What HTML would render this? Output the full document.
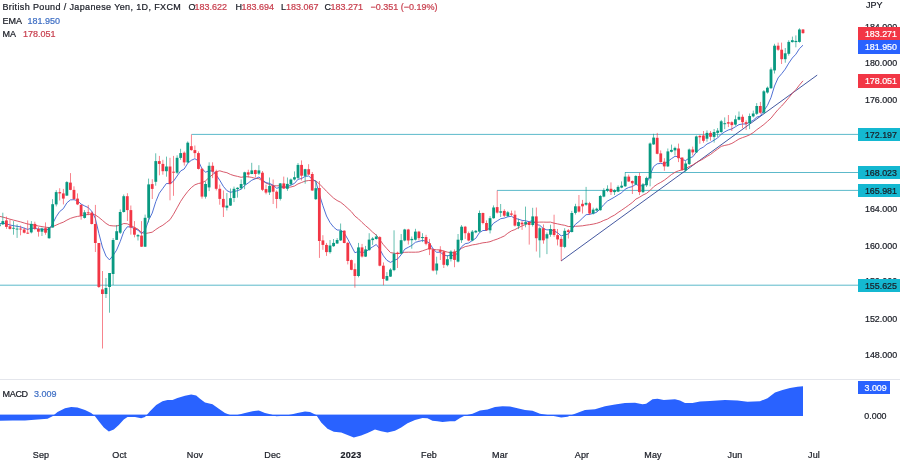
<!DOCTYPE html>
<html><head><meta charset="utf-8"><title>GBPJPY chart</title>
<style>
html,body{margin:0;padding:0;background:#fff}
body{width:900px;height:463px;position:relative;overflow:hidden;font-family:"Liberation Sans",sans-serif}
.t{position:absolute;line-height:12px;height:12px;white-space:nowrap;-webkit-text-stroke:0.22px currentColor}
#txt{position:absolute;left:0;top:0;width:900px;height:463px;will-change:transform;opacity:0.999}
.lb{position:absolute;-webkit-text-stroke:0.22px currentColor;font-size:8.9px;white-space:nowrap;overflow:hidden}
</style></head><body>
<svg width="900" height="463" viewBox="0 0 900 463" style="position:absolute;left:0;top:0">
<rect x="0" y="379" width="900" height="1" fill="#e4e6ec"/>
<line x1="191.5" y1="134.4" x2="858" y2="134.4" stroke="#35a9bd" stroke-width="0.9" opacity="0.9"/>
<line x1="625" y1="172.5" x2="858" y2="172.5" stroke="#35a9bd" stroke-width="0.9" opacity="0.9"/>
<line x1="497.1" y1="190.4" x2="858" y2="190.4" stroke="#35a9bd" stroke-width="0.9" opacity="0.9"/>
<line x1="0" y1="285.2" x2="858" y2="285.2" stroke="#35a9bd" stroke-width="0.9" opacity="0.9"/>
<line x1="561" y1="261" x2="817.2" y2="75.1" stroke="#2f4595" stroke-width="0.9"/>
<polyline fill="none" stroke="#d2475a" stroke-width="0.9" stroke-linejoin="round" points="-0.7,216.3 2.9,217.1 6.4,218.1 10.0,219.2 13.5,220.1 17.1,221.0 20.6,221.9 24.2,223.0 27.7,224.0 31.3,224.5 34.9,225.2 38.4,226.0 42.0,226.6 45.5,227.2 49.1,227.6 52.6,226.7 56.2,225.1 59.7,223.5 63.3,222.2 66.9,220.1 70.4,218.4 74.0,217.2 77.5,216.4 81.1,215.9 84.6,215.1 88.2,214.4 91.8,214.2 95.3,214.9 98.9,217.4 102.4,220.3 106.0,223.4 109.5,225.5 113.1,225.9 116.6,226.0 120.2,225.0 123.8,223.5 127.3,223.8 130.9,225.5 134.4,227.4 138.0,229.2 141.5,232.3 145.1,233.6 148.7,232.9 152.2,232.2 155.8,229.5 159.3,227.2 162.9,225.2 166.4,222.5 170.0,219.7 173.5,214.3 177.1,207.8 180.7,201.3 184.2,196.1 187.8,191.4 191.3,187.6 194.9,184.8 198.4,183.5 202.0,182.8 205.6,180.8 209.1,177.5 212.7,174.5 216.2,171.7 219.8,170.8 223.3,171.9 226.9,172.7 230.4,174.4 234.0,175.6 237.6,176.4 241.1,177.3 244.7,176.7 248.2,176.8 251.8,177.4 255.3,178.4 258.9,178.7 262.5,181.0 266.0,183.0 269.6,184.6 273.1,185.7 276.7,185.8 280.2,185.8 283.8,186.8 287.3,187.4 290.9,187.0 294.5,186.0 298.0,183.9 301.6,182.5 305.1,181.1 308.7,180.5 312.2,180.6 315.8,180.8 319.4,184.0 322.9,187.4 326.5,191.3 330.0,194.7 333.6,198.1 337.1,200.5 340.7,202.3 344.2,205.1 347.8,208.4 351.4,211.7 354.9,216.1 358.5,218.9 362.0,222.4 365.6,225.7 369.1,228.7 372.7,232.2 376.3,235.1 379.8,239.7 383.4,244.7 386.9,248.7 390.5,252.6 394.0,253.2 397.6,253.7 401.1,253.1 404.7,252.3 408.3,252.2 411.8,252.2 415.4,252.2 418.9,252.0 422.5,250.8 426.0,249.6 429.6,248.3 433.2,249.4 436.7,249.8 440.3,249.9 443.8,251.1 447.4,252.1 450.9,252.8 454.5,252.5 458.0,250.6 461.6,248.3 465.2,246.6 468.7,245.9 472.3,244.9 475.8,244.4 479.4,243.6 482.9,242.8 486.5,242.4 490.0,241.7 493.6,240.3 497.2,239.1 500.7,237.6 504.3,236.0 507.8,233.2 511.4,230.9 514.9,229.6 518.5,227.6 522.1,225.9 525.6,224.5 529.2,222.9 532.7,221.8 536.3,222.3 539.8,222.1 543.4,222.1 546.9,222.2 550.5,222.1 554.1,223.2 557.6,223.9 561.2,224.7 564.7,225.3 568.3,226.5 571.8,226.5 575.4,226.3 579.0,226.1 582.5,225.8 586.1,225.2 589.6,224.7 593.2,224.1 596.7,223.3 600.3,222.1 603.8,220.4 607.4,219.1 611.0,216.9 614.5,215.1 618.1,212.5 621.6,210.2 625.2,207.7 628.7,205.2 632.3,202.5 635.9,199.1 639.4,197.3 643.0,195.0 646.5,193.4 650.1,190.4 653.6,186.8 657.2,184.3 660.7,182.4 664.3,180.2 667.9,177.4 671.4,174.6 675.0,172.3 678.5,170.8 682.1,169.9 685.6,168.5 689.2,166.6 692.8,164.9 696.3,162.6 699.9,160.7 703.4,158.8 707.0,156.4 710.5,154.5 714.1,151.6 717.6,149.1 721.2,146.4 724.8,145.4 728.3,144.7 731.9,143.4 735.4,141.3 739.0,139.0 742.5,137.6 746.1,136.4 749.7,134.8 753.2,132.7 756.8,129.7 760.3,127.2 763.9,124.5 767.4,121.4 771.0,118.2 774.5,113.8 778.1,109.5 781.7,106.0 785.2,102.0 788.8,97.7 792.3,93.4 795.9,89.6 799.4,85.1 803.0,80.8"/>
<polyline fill="none" stroke="#3c61cf" stroke-width="0.9" stroke-linejoin="round" points="-0.7,223.7 2.9,223.1 6.4,223.9 10.0,225.0 13.5,225.7 17.1,226.3 20.6,226.9 24.2,228.2 27.7,229.4 31.3,228.2 34.9,228.4 38.4,229.1 42.0,229.0 45.5,229.8 49.1,229.3 52.6,223.8 56.2,216.7 59.7,211.5 63.3,208.7 66.9,202.8 70.4,199.9 74.0,199.7 77.5,200.7 81.1,204.1 84.6,205.9 88.2,207.6 91.8,211.2 95.3,218.3 98.9,233.5 102.4,247.0 106.0,256.1 109.5,259.9 113.1,255.4 116.6,250.1 120.2,241.6 123.8,231.5 127.3,226.8 130.9,226.9 134.4,228.7 138.0,230.1 141.5,233.8 145.1,230.2 148.7,220.1 152.2,213.1 155.8,201.6 159.3,193.2 162.9,188.3 166.4,183.5 170.0,183.6 173.5,181.2 177.1,176.0 180.7,170.9 184.2,169.0 187.8,163.2 191.3,160.3 194.9,158.7 198.4,160.9 202.0,168.9 205.6,172.2 209.1,170.8 212.7,171.0 216.2,174.9 219.8,180.3 223.3,186.3 226.9,190.6 230.4,192.3 234.0,191.5 237.6,190.7 241.1,189.2 244.7,185.4 248.2,183.0 251.8,180.2 255.3,178.8 258.9,177.0 262.5,179.8 266.0,182.7 269.6,183.4 273.1,185.2 276.7,188.3 280.2,187.2 283.8,187.5 287.3,186.7 290.9,185.1 294.5,183.4 298.0,179.3 301.6,178.5 305.1,176.4 308.7,176.0 312.2,179.2 315.8,181.2 319.4,194.5 322.9,205.7 326.5,216.0 330.0,222.5 333.6,227.1 337.1,230.0 340.7,230.1 344.2,233.0 347.8,239.2 351.4,246.0 354.9,252.7 358.5,251.5 362.0,252.6 365.6,251.9 369.1,249.2 372.7,246.8 376.3,244.5 379.8,249.2 383.4,255.8 386.9,260.3 390.5,262.4 394.0,260.4 397.6,259.0 401.1,254.8 404.7,249.2 408.3,247.3 411.8,245.4 415.4,242.3 418.9,241.4 422.5,240.4 426.0,241.2 429.6,243.0 433.2,249.1 436.7,252.3 440.3,252.2 443.8,255.0 447.4,255.9 450.9,255.0 454.5,256.1 458.0,252.4 461.6,246.7 465.2,243.7 468.7,243.0 472.3,240.5 475.8,238.3 479.4,232.7 482.9,230.5 486.5,230.5 490.0,227.7 493.6,223.2 497.2,220.9 500.7,218.7 504.3,218.1 507.8,216.8 511.4,216.3 514.9,218.4 518.5,219.2 522.1,220.4 525.6,220.8 529.2,221.7 532.7,220.5 536.3,224.5 539.8,225.3 543.4,228.6 546.9,229.9 550.5,229.7 554.1,230.9 557.6,232.8 561.2,235.9 564.7,234.8 568.3,234.1 571.8,229.4 575.4,224.3 579.0,221.5 582.5,218.1 586.1,214.7 589.6,214.4 593.2,213.4 596.7,212.3 600.3,208.7 603.8,204.6 607.4,201.1 611.0,199.1 614.5,197.1 618.1,194.8 621.6,192.8 625.2,189.2 628.7,187.5 632.3,186.6 635.9,184.2 639.4,186.0 643.0,185.6 646.5,183.9 650.1,174.9 653.6,166.6 657.2,163.8 660.7,163.4 664.3,164.1 667.9,161.3 671.4,158.7 675.0,156.3 678.5,156.7 682.1,159.7 685.6,160.5 689.2,158.1 692.8,156.8 696.3,152.3 699.9,148.9 703.4,147.1 707.0,144.0 710.5,142.4 714.1,140.1 717.6,138.0 721.2,134.2 724.8,131.8 728.3,130.0 731.9,128.9 735.4,126.8 739.0,124.6 742.5,124.0 746.1,124.0 749.7,122.2 753.2,120.3 756.8,117.1 760.3,116.1 763.9,110.6 767.4,105.5 771.0,97.5 774.5,86.0 778.1,77.9 781.7,73.7 785.2,69.2 788.8,63.1 792.3,58.0 795.9,54.2 799.4,48.7 803.0,45.2"/>
<rect x="-1.09" y="224.3" width="0.76" height="14.2" fill="#089981" opacity="0.8"/>
<rect x="-2.11" y="224.3" width="2.8" height="1.9" fill="#089981"/>
<rect x="2.47" y="212.7" width="0.76" height="12.3" fill="#089981" opacity="0.8"/>
<rect x="1.45" y="221.1" width="2.8" height="3.2" fill="#089981"/>
<rect x="6.03" y="216.6" width="0.76" height="12.3" fill="#f23645" opacity="0.8"/>
<rect x="5.01" y="220.4" width="2.8" height="6.5" fill="#f23645"/>
<rect x="9.58" y="219.8" width="0.76" height="9.7" fill="#f23645" opacity="0.8"/>
<rect x="8.56" y="226.3" width="2.8" height="2.6" fill="#f23645"/>
<rect x="13.14" y="221.1" width="0.76" height="13.6" fill="#089981" opacity="0.8"/>
<rect x="12.12" y="227.8" width="2.8" height="0.9" fill="#089981"/>
<rect x="16.69" y="224.3" width="0.76" height="13.6" fill="#089981" opacity="0.8"/>
<rect x="15.67" y="228.6" width="2.8" height="0.9" fill="#089981"/>
<rect x="20.25" y="225.6" width="0.76" height="9.7" fill="#f23645" opacity="0.8"/>
<rect x="19.23" y="228.6" width="2.8" height="0.9" fill="#f23645"/>
<rect x="23.81" y="227.6" width="0.76" height="5.8" fill="#f23645" opacity="0.8"/>
<rect x="22.79" y="229.5" width="2.8" height="3.2" fill="#f23645"/>
<rect x="27.36" y="220.4" width="0.76" height="13.6" fill="#f23645" opacity="0.8"/>
<rect x="26.34" y="232.7" width="2.8" height="0.9" fill="#f23645"/>
<rect x="30.92" y="221.1" width="0.76" height="12.3" fill="#089981" opacity="0.8"/>
<rect x="29.90" y="223.9" width="2.8" height="8.5" fill="#089981"/>
<rect x="34.48" y="221.7" width="0.76" height="8.4" fill="#f23645" opacity="0.8"/>
<rect x="33.46" y="223.9" width="2.8" height="4.9" fill="#f23645"/>
<rect x="38.03" y="226.9" width="0.76" height="9.7" fill="#f23645" opacity="0.8"/>
<rect x="37.01" y="228.9" width="2.8" height="2.8" fill="#f23645"/>
<rect x="41.59" y="227.6" width="0.76" height="8.4" fill="#089981" opacity="0.8"/>
<rect x="40.57" y="228.6" width="2.8" height="3.1" fill="#089981"/>
<rect x="45.14" y="222.4" width="0.76" height="12.3" fill="#f23645" opacity="0.8"/>
<rect x="44.12" y="228.2" width="2.8" height="4.5" fill="#f23645"/>
<rect x="48.70" y="226.9" width="0.76" height="12.0" fill="#089981" opacity="0.8"/>
<rect x="47.68" y="227.6" width="2.8" height="10.6" fill="#089981"/>
<rect x="52.26" y="199.1" width="0.76" height="28.5" fill="#089981" opacity="0.8"/>
<rect x="51.24" y="204.2" width="2.8" height="23.3" fill="#089981"/>
<rect x="55.81" y="190.2" width="0.76" height="16.2" fill="#089981" opacity="0.8"/>
<rect x="54.79" y="192.1" width="2.8" height="12.3" fill="#089981"/>
<rect x="59.37" y="188.2" width="0.76" height="12.3" fill="#f23645" opacity="0.8"/>
<rect x="58.35" y="192.1" width="2.8" height="1.3" fill="#f23645"/>
<rect x="62.93" y="188.9" width="0.76" height="15.5" fill="#f23645" opacity="0.8"/>
<rect x="61.91" y="193.4" width="2.8" height="5.2" fill="#f23645"/>
<rect x="66.48" y="181.1" width="0.76" height="14.9" fill="#089981" opacity="0.8"/>
<rect x="65.46" y="182.1" width="2.8" height="13.5" fill="#089981"/>
<rect x="70.04" y="173.1" width="0.76" height="17.1" fill="#f23645" opacity="0.8"/>
<rect x="69.02" y="182.6" width="2.8" height="7.3" fill="#f23645"/>
<rect x="73.59" y="186.3" width="0.76" height="13.6" fill="#f23645" opacity="0.8"/>
<rect x="72.57" y="189.9" width="2.8" height="9.1" fill="#f23645"/>
<rect x="77.15" y="193.4" width="0.76" height="11.7" fill="#f23645" opacity="0.8"/>
<rect x="76.13" y="198.6" width="2.8" height="5.8" fill="#f23645"/>
<rect x="80.71" y="204.2" width="0.76" height="15.5" fill="#f23645" opacity="0.8"/>
<rect x="79.69" y="204.9" width="2.8" height="11.0" fill="#f23645"/>
<rect x="84.26" y="210.1" width="0.76" height="8.4" fill="#089981" opacity="0.8"/>
<rect x="83.24" y="212.3" width="2.8" height="5.6" fill="#089981"/>
<rect x="87.82" y="204.9" width="0.76" height="10.4" fill="#f23645" opacity="0.8"/>
<rect x="86.80" y="212.3" width="2.8" height="1.0" fill="#f23645"/>
<rect x="91.38" y="211.4" width="0.76" height="13.0" fill="#f23645" opacity="0.8"/>
<rect x="90.35" y="212.7" width="2.8" height="11.3" fill="#f23645"/>
<rect x="94.93" y="204.9" width="0.76" height="47.1" fill="#f23645" opacity="0.8"/>
<rect x="93.91" y="224.0" width="2.8" height="19.0" fill="#f23645"/>
<rect x="98.49" y="243.0" width="0.76" height="45.0" fill="#f23645" opacity="0.8"/>
<rect x="97.47" y="243.0" width="2.8" height="44.0" fill="#f23645"/>
<rect x="102.04" y="271.0" width="0.76" height="77.5" fill="#f23645" opacity="0.8"/>
<rect x="101.02" y="289.4" width="2.8" height="4.6" fill="#f23645"/>
<rect x="105.60" y="278.0" width="0.76" height="20.0" fill="#089981" opacity="0.8"/>
<rect x="104.58" y="288.0" width="2.8" height="6.0" fill="#089981"/>
<rect x="109.16" y="273.0" width="0.76" height="39.7" fill="#089981" opacity="0.8"/>
<rect x="108.14" y="273.0" width="2.8" height="14.0" fill="#089981"/>
<rect x="112.71" y="238.0" width="0.76" height="47.0" fill="#089981" opacity="0.8"/>
<rect x="111.69" y="240.0" width="2.8" height="34.0" fill="#089981"/>
<rect x="116.27" y="225.0" width="0.76" height="14.9" fill="#089981" opacity="0.8"/>
<rect x="115.25" y="231.2" width="2.8" height="8.7" fill="#089981"/>
<rect x="119.82" y="209.4" width="0.76" height="24.6" fill="#089981" opacity="0.8"/>
<rect x="118.80" y="212.0" width="2.8" height="20.7" fill="#089981"/>
<rect x="123.38" y="194.5" width="0.76" height="18.1" fill="#089981" opacity="0.8"/>
<rect x="122.36" y="196.2" width="2.8" height="15.8" fill="#089981"/>
<rect x="126.94" y="193.2" width="0.76" height="27.8" fill="#f23645" opacity="0.8"/>
<rect x="125.92" y="196.2" width="2.8" height="13.9" fill="#f23645"/>
<rect x="130.49" y="205.5" width="0.76" height="29.1" fill="#f23645" opacity="0.8"/>
<rect x="129.47" y="210.1" width="2.8" height="17.5" fill="#f23645"/>
<rect x="134.05" y="221.1" width="0.76" height="16.2" fill="#f23645" opacity="0.8"/>
<rect x="133.03" y="227.6" width="2.8" height="7.1" fill="#f23645"/>
<rect x="137.61" y="234.0" width="0.76" height="6.5" fill="#089981" opacity="0.8"/>
<rect x="136.59" y="235.1" width="2.8" height="1.3" fill="#089981"/>
<rect x="141.16" y="221.1" width="0.76" height="25.9" fill="#f23645" opacity="0.8"/>
<rect x="140.14" y="235.6" width="2.8" height="11.1" fill="#f23645"/>
<rect x="144.72" y="214.6" width="0.76" height="32.4" fill="#089981" opacity="0.8"/>
<rect x="143.70" y="217.8" width="2.8" height="28.9" fill="#089981"/>
<rect x="148.27" y="178.6" width="0.76" height="43.8" fill="#089981" opacity="0.8"/>
<rect x="147.25" y="184.4" width="2.8" height="33.4" fill="#089981"/>
<rect x="151.83" y="179.2" width="0.76" height="19.8" fill="#f23645" opacity="0.8"/>
<rect x="150.81" y="184.1" width="2.8" height="4.8" fill="#f23645"/>
<rect x="155.39" y="153.3" width="0.76" height="32.4" fill="#089981" opacity="0.8"/>
<rect x="154.37" y="161.1" width="2.8" height="20.7" fill="#089981"/>
<rect x="158.94" y="155.9" width="0.76" height="19.4" fill="#f23645" opacity="0.8"/>
<rect x="157.92" y="161.1" width="2.8" height="2.8" fill="#f23645"/>
<rect x="162.50" y="159.8" width="0.76" height="14.9" fill="#f23645" opacity="0.8"/>
<rect x="161.48" y="163.9" width="2.8" height="7.3" fill="#f23645"/>
<rect x="166.06" y="156.6" width="0.76" height="20.1" fill="#089981" opacity="0.8"/>
<rect x="165.04" y="166.5" width="2.8" height="4.7" fill="#089981"/>
<rect x="169.61" y="157.8" width="0.76" height="42.5" fill="#f23645" opacity="0.8"/>
<rect x="168.59" y="166.5" width="2.8" height="17.6" fill="#f23645"/>
<rect x="173.17" y="155.9" width="0.76" height="39.9" fill="#f23645" opacity="0.8"/>
<rect x="172.15" y="171.7" width="2.8" height="1.0" fill="#f23645"/>
<rect x="176.72" y="155.3" width="0.76" height="18.8" fill="#089981" opacity="0.8"/>
<rect x="175.70" y="157.8" width="2.8" height="14.9" fill="#089981"/>
<rect x="180.28" y="148.8" width="0.76" height="11.0" fill="#089981" opacity="0.8"/>
<rect x="179.26" y="153.1" width="2.8" height="4.8" fill="#089981"/>
<rect x="183.84" y="151.4" width="0.76" height="14.2" fill="#f23645" opacity="0.8"/>
<rect x="182.82" y="152.7" width="2.8" height="9.7" fill="#f23645"/>
<rect x="187.39" y="141.4" width="0.76" height="21.6" fill="#089981" opacity="0.8"/>
<rect x="186.37" y="142.7" width="2.8" height="19.7" fill="#089981"/>
<rect x="190.95" y="134.5" width="0.76" height="16.2" fill="#f23645" opacity="0.8"/>
<rect x="189.93" y="146.2" width="2.8" height="3.9" fill="#f23645"/>
<rect x="194.50" y="145.5" width="0.76" height="12.3" fill="#f23645" opacity="0.8"/>
<rect x="193.48" y="150.1" width="2.8" height="3.0" fill="#f23645"/>
<rect x="198.06" y="151.4" width="0.76" height="18.1" fill="#f23645" opacity="0.8"/>
<rect x="197.04" y="153.1" width="2.8" height="15.8" fill="#f23645"/>
<rect x="201.62" y="167.8" width="0.76" height="30.8" fill="#f23645" opacity="0.8"/>
<rect x="200.60" y="168.8" width="2.8" height="27.8" fill="#f23645"/>
<rect x="205.17" y="181.4" width="0.76" height="17.2" fill="#089981" opacity="0.8"/>
<rect x="204.15" y="184.0" width="2.8" height="12.7" fill="#089981"/>
<rect x="208.73" y="162.3" width="0.76" height="28.8" fill="#089981" opacity="0.8"/>
<rect x="207.71" y="165.8" width="2.8" height="21.6" fill="#089981"/>
<rect x="212.29" y="162.3" width="0.76" height="15.8" fill="#f23645" opacity="0.8"/>
<rect x="211.27" y="165.8" width="2.8" height="5.8" fill="#f23645"/>
<rect x="215.84" y="169.7" width="0.76" height="20.7" fill="#f23645" opacity="0.8"/>
<rect x="214.82" y="171.4" width="2.8" height="17.4" fill="#f23645"/>
<rect x="219.40" y="184.6" width="0.76" height="20.1" fill="#f23645" opacity="0.8"/>
<rect x="218.38" y="188.8" width="2.8" height="10.1" fill="#f23645"/>
<rect x="222.95" y="190.4" width="0.76" height="26.6" fill="#f23645" opacity="0.8"/>
<rect x="221.93" y="198.9" width="2.8" height="8.4" fill="#f23645"/>
<rect x="226.51" y="193.0" width="0.76" height="17.5" fill="#089981" opacity="0.8"/>
<rect x="225.49" y="205.6" width="2.8" height="2.1" fill="#089981"/>
<rect x="230.07" y="188.5" width="0.76" height="17.5" fill="#089981" opacity="0.8"/>
<rect x="229.05" y="198.2" width="2.8" height="7.4" fill="#089981"/>
<rect x="233.62" y="186.6" width="0.76" height="15.5" fill="#089981" opacity="0.8"/>
<rect x="232.60" y="188.8" width="2.8" height="9.2" fill="#089981"/>
<rect x="237.18" y="187.2" width="0.76" height="10.4" fill="#089981" opacity="0.8"/>
<rect x="236.16" y="187.8" width="2.8" height="1.3" fill="#089981"/>
<rect x="240.74" y="179.4" width="0.76" height="10.4" fill="#089981" opacity="0.8"/>
<rect x="239.72" y="184.0" width="2.8" height="4.3" fill="#089981"/>
<rect x="244.29" y="171.7" width="0.76" height="17.5" fill="#089981" opacity="0.8"/>
<rect x="243.27" y="172.3" width="2.8" height="12.3" fill="#089981"/>
<rect x="247.85" y="169.7" width="0.76" height="7.8" fill="#f23645" opacity="0.8"/>
<rect x="246.83" y="172.3" width="2.8" height="2.3" fill="#f23645"/>
<rect x="251.40" y="162.8" width="0.76" height="11.4" fill="#089981" opacity="0.8"/>
<rect x="250.38" y="170.4" width="2.8" height="3.6" fill="#089981"/>
<rect x="254.96" y="169.7" width="0.76" height="7.8" fill="#f23645" opacity="0.8"/>
<rect x="253.94" y="170.1" width="2.8" height="3.9" fill="#f23645"/>
<rect x="258.52" y="165.2" width="0.76" height="9.7" fill="#089981" opacity="0.8"/>
<rect x="257.50" y="170.4" width="2.8" height="3.2" fill="#089981"/>
<rect x="262.07" y="171.0" width="0.76" height="20.1" fill="#f23645" opacity="0.8"/>
<rect x="261.05" y="172.7" width="2.8" height="17.1" fill="#f23645"/>
<rect x="265.63" y="184.6" width="0.76" height="9.7" fill="#f23645" opacity="0.8"/>
<rect x="264.61" y="189.1" width="2.8" height="3.5" fill="#f23645"/>
<rect x="269.19" y="177.5" width="0.76" height="17.5" fill="#089981" opacity="0.8"/>
<rect x="268.17" y="185.9" width="2.8" height="6.5" fill="#089981"/>
<rect x="272.74" y="179.5" width="0.76" height="24.5" fill="#f23645" opacity="0.8"/>
<rect x="271.72" y="186.0" width="2.8" height="5.7" fill="#f23645"/>
<rect x="276.30" y="190.4" width="0.76" height="17.9" fill="#f23645" opacity="0.8"/>
<rect x="275.28" y="191.7" width="2.8" height="7.3" fill="#f23645"/>
<rect x="279.85" y="183.0" width="0.76" height="17.5" fill="#089981" opacity="0.8"/>
<rect x="278.83" y="183.4" width="2.8" height="15.5" fill="#089981"/>
<rect x="283.41" y="176.6" width="0.76" height="12.3" fill="#f23645" opacity="0.8"/>
<rect x="282.39" y="183.4" width="2.8" height="5.2" fill="#f23645"/>
<rect x="286.97" y="177.5" width="0.76" height="13.3" fill="#089981" opacity="0.8"/>
<rect x="285.95" y="183.9" width="2.8" height="4.9" fill="#089981"/>
<rect x="290.52" y="178.5" width="0.76" height="7.1" fill="#089981" opacity="0.8"/>
<rect x="289.50" y="179.5" width="2.8" height="4.8" fill="#089981"/>
<rect x="294.08" y="171.4" width="0.76" height="9.1" fill="#089981" opacity="0.8"/>
<rect x="293.06" y="177.2" width="2.8" height="2.3" fill="#089981"/>
<rect x="297.63" y="163.0" width="0.76" height="16.2" fill="#089981" opacity="0.8"/>
<rect x="296.61" y="164.9" width="2.8" height="13.0" fill="#089981"/>
<rect x="301.19" y="160.4" width="0.76" height="20.1" fill="#f23645" opacity="0.8"/>
<rect x="300.17" y="164.9" width="2.8" height="10.8" fill="#f23645"/>
<rect x="304.75" y="168.8" width="0.76" height="14.9" fill="#089981" opacity="0.8"/>
<rect x="303.73" y="169.2" width="2.8" height="6.7" fill="#089981"/>
<rect x="308.30" y="164.2" width="0.76" height="11.0" fill="#f23645" opacity="0.8"/>
<rect x="307.28" y="169.2" width="2.8" height="5.4" fill="#f23645"/>
<rect x="311.86" y="172.0" width="0.76" height="18.8" fill="#f23645" opacity="0.8"/>
<rect x="310.84" y="174.0" width="2.8" height="16.5" fill="#f23645"/>
<rect x="315.42" y="181.1" width="0.76" height="18.8" fill="#089981" opacity="0.8"/>
<rect x="314.40" y="188.2" width="2.8" height="11.0" fill="#089981"/>
<rect x="318.97" y="181.0" width="0.76" height="76.9" fill="#f23645" opacity="0.8"/>
<rect x="317.95" y="188.0" width="2.8" height="53.0" fill="#f23645"/>
<rect x="322.53" y="235.2" width="0.76" height="14.6" fill="#f23645" opacity="0.8"/>
<rect x="321.51" y="240.4" width="2.8" height="4.5" fill="#f23645"/>
<rect x="326.08" y="242.9" width="0.76" height="13.0" fill="#f23645" opacity="0.8"/>
<rect x="325.06" y="244.9" width="2.8" height="7.2" fill="#f23645"/>
<rect x="329.64" y="240.0" width="0.76" height="13.6" fill="#089981" opacity="0.8"/>
<rect x="328.62" y="245.5" width="2.8" height="6.6" fill="#089981"/>
<rect x="333.20" y="239.0" width="0.76" height="7.8" fill="#089981" opacity="0.8"/>
<rect x="332.18" y="242.9" width="2.8" height="3.3" fill="#089981"/>
<rect x="336.75" y="238.1" width="0.76" height="5.8" fill="#089981" opacity="0.8"/>
<rect x="335.73" y="240.0" width="2.8" height="3.5" fill="#089981"/>
<rect x="340.31" y="223.5" width="0.76" height="17.5" fill="#089981" opacity="0.8"/>
<rect x="339.29" y="230.7" width="2.8" height="9.7" fill="#089981"/>
<rect x="343.87" y="230.3" width="0.76" height="13.0" fill="#f23645" opacity="0.8"/>
<rect x="342.85" y="230.7" width="2.8" height="12.3" fill="#f23645"/>
<rect x="347.42" y="242.0" width="0.76" height="22.4" fill="#f23645" opacity="0.8"/>
<rect x="346.40" y="242.9" width="2.8" height="18.1" fill="#f23645"/>
<rect x="350.98" y="259.5" width="0.76" height="10.7" fill="#f23645" opacity="0.8"/>
<rect x="349.96" y="260.1" width="2.8" height="9.7" fill="#f23645"/>
<rect x="354.53" y="263.4" width="0.76" height="24.3" fill="#f23645" opacity="0.8"/>
<rect x="353.51" y="269.2" width="2.8" height="6.8" fill="#f23645"/>
<rect x="358.09" y="242.9" width="0.76" height="34.4" fill="#089981" opacity="0.8"/>
<rect x="357.07" y="247.4" width="2.8" height="28.6" fill="#089981"/>
<rect x="361.65" y="243.9" width="0.76" height="13.6" fill="#f23645" opacity="0.8"/>
<rect x="360.63" y="247.4" width="2.8" height="9.1" fill="#f23645"/>
<rect x="365.20" y="245.9" width="0.76" height="11.1" fill="#089981" opacity="0.8"/>
<rect x="364.18" y="249.4" width="2.8" height="7.2" fill="#089981"/>
<rect x="368.76" y="233.2" width="0.76" height="17.5" fill="#089981" opacity="0.8"/>
<rect x="367.74" y="239.6" width="2.8" height="10.5" fill="#089981"/>
<rect x="372.31" y="237.1" width="0.76" height="7.8" fill="#089981" opacity="0.8"/>
<rect x="371.29" y="238.5" width="2.8" height="1.6" fill="#089981"/>
<rect x="375.87" y="234.2" width="0.76" height="5.4" fill="#089981" opacity="0.8"/>
<rect x="374.85" y="236.5" width="2.8" height="2.5" fill="#089981"/>
<rect x="379.43" y="236.1" width="0.76" height="30.2" fill="#f23645" opacity="0.8"/>
<rect x="378.41" y="237.1" width="2.8" height="28.6" fill="#f23645"/>
<rect x="382.98" y="262.4" width="0.76" height="22.8" fill="#f23645" opacity="0.8"/>
<rect x="381.96" y="265.7" width="2.8" height="13.2" fill="#f23645"/>
<rect x="386.54" y="272.1" width="0.76" height="8.8" fill="#089981" opacity="0.8"/>
<rect x="385.52" y="276.0" width="2.8" height="4.5" fill="#089981"/>
<rect x="390.10" y="268.2" width="0.76" height="8.8" fill="#089981" opacity="0.8"/>
<rect x="389.08" y="269.6" width="2.8" height="7.0" fill="#089981"/>
<rect x="393.65" y="230.3" width="0.76" height="40.9" fill="#089981" opacity="0.8"/>
<rect x="392.63" y="253.6" width="2.8" height="16.5" fill="#089981"/>
<rect x="397.21" y="251.7" width="0.76" height="16.3" fill="#f23645" opacity="0.8"/>
<rect x="396.19" y="252.7" width="2.8" height="1.3" fill="#f23645"/>
<rect x="400.76" y="234.0" width="0.76" height="20.3" fill="#089981" opacity="0.8"/>
<rect x="399.74" y="240.2" width="2.8" height="13.3" fill="#089981"/>
<rect x="404.32" y="228.8" width="0.76" height="12.5" fill="#089981" opacity="0.8"/>
<rect x="403.30" y="229.5" width="2.8" height="11.0" fill="#089981"/>
<rect x="407.88" y="228.8" width="0.76" height="15.7" fill="#f23645" opacity="0.8"/>
<rect x="406.86" y="229.5" width="2.8" height="11.0" fill="#f23645"/>
<rect x="411.43" y="236.5" width="0.76" height="12.2" fill="#089981" opacity="0.8"/>
<rect x="410.41" y="238.9" width="2.8" height="1.3" fill="#089981"/>
<rect x="414.99" y="228.8" width="0.76" height="11.7" fill="#089981" opacity="0.8"/>
<rect x="413.97" y="231.6" width="2.8" height="8.1" fill="#089981"/>
<rect x="418.55" y="230.8" width="0.76" height="9.7" fill="#f23645" opacity="0.8"/>
<rect x="417.53" y="231.6" width="2.8" height="6.5" fill="#f23645"/>
<rect x="422.10" y="233.2" width="0.76" height="8.9" fill="#089981" opacity="0.8"/>
<rect x="421.08" y="237.0" width="2.8" height="1.1" fill="#089981"/>
<rect x="425.66" y="234.8" width="0.76" height="10.5" fill="#f23645" opacity="0.8"/>
<rect x="424.64" y="237.0" width="2.8" height="6.8" fill="#f23645"/>
<rect x="429.21" y="238.9" width="0.76" height="16.2" fill="#f23645" opacity="0.8"/>
<rect x="428.19" y="243.4" width="2.8" height="6.0" fill="#f23645"/>
<rect x="432.77" y="248.6" width="0.76" height="22.7" fill="#f23645" opacity="0.8"/>
<rect x="431.75" y="249.4" width="2.8" height="21.1" fill="#f23645"/>
<rect x="436.33" y="256.7" width="0.76" height="17.8" fill="#089981" opacity="0.8"/>
<rect x="435.31" y="263.5" width="2.8" height="7.0" fill="#089981"/>
<rect x="439.88" y="246.2" width="0.76" height="13.8" fill="#f23645" opacity="0.8"/>
<rect x="438.86" y="250.2" width="2.8" height="1.6" fill="#f23645"/>
<rect x="443.44" y="250.2" width="0.76" height="17.8" fill="#f23645" opacity="0.8"/>
<rect x="442.42" y="251.5" width="2.8" height="13.3" fill="#f23645"/>
<rect x="447.00" y="255.1" width="0.76" height="11.3" fill="#089981" opacity="0.8"/>
<rect x="445.98" y="259.2" width="2.8" height="6.0" fill="#089981"/>
<rect x="450.55" y="250.2" width="0.76" height="11.3" fill="#089981" opacity="0.8"/>
<rect x="449.53" y="251.5" width="2.8" height="7.6" fill="#089981"/>
<rect x="454.11" y="249.4" width="0.76" height="17.8" fill="#f23645" opacity="0.8"/>
<rect x="453.09" y="251.5" width="2.8" height="8.4" fill="#f23645"/>
<rect x="457.66" y="234.0" width="0.76" height="28.4" fill="#089981" opacity="0.8"/>
<rect x="456.64" y="239.7" width="2.8" height="21.9" fill="#089981"/>
<rect x="461.22" y="225.1" width="0.76" height="17.8" fill="#089981" opacity="0.8"/>
<rect x="460.20" y="226.7" width="2.8" height="13.5" fill="#089981"/>
<rect x="464.78" y="225.9" width="0.76" height="13.0" fill="#f23645" opacity="0.8"/>
<rect x="463.76" y="226.7" width="2.8" height="6.5" fill="#f23645"/>
<rect x="468.33" y="231.6" width="0.76" height="9.7" fill="#f23645" opacity="0.8"/>
<rect x="467.31" y="233.2" width="2.8" height="7.3" fill="#f23645"/>
<rect x="471.89" y="230.0" width="0.76" height="11.3" fill="#089981" opacity="0.8"/>
<rect x="470.87" y="231.6" width="2.8" height="8.9" fill="#089981"/>
<rect x="475.44" y="230.0" width="0.76" height="3.2" fill="#089981" opacity="0.8"/>
<rect x="474.42" y="230.8" width="2.8" height="1.6" fill="#089981"/>
<rect x="479.00" y="210.5" width="0.76" height="21.9" fill="#089981" opacity="0.8"/>
<rect x="477.98" y="213.0" width="2.8" height="18.6" fill="#089981"/>
<rect x="482.56" y="212.6" width="0.76" height="11.7" fill="#f23645" opacity="0.8"/>
<rect x="481.54" y="213.0" width="2.8" height="10.0" fill="#f23645"/>
<rect x="486.11" y="220.4" width="0.76" height="10.4" fill="#f23645" opacity="0.8"/>
<rect x="485.09" y="223.0" width="2.8" height="7.3" fill="#f23645"/>
<rect x="489.67" y="216.1" width="0.76" height="17.3" fill="#089981" opacity="0.8"/>
<rect x="488.65" y="218.2" width="2.8" height="12.1" fill="#089981"/>
<rect x="493.23" y="205.4" width="0.76" height="13.3" fill="#089981" opacity="0.8"/>
<rect x="492.21" y="207.5" width="2.8" height="10.7" fill="#089981"/>
<rect x="496.78" y="190.5" width="0.76" height="23.0" fill="#f23645" opacity="0.8"/>
<rect x="495.76" y="207.1" width="2.8" height="5.5" fill="#f23645"/>
<rect x="500.34" y="204.0" width="0.76" height="13.0" fill="#089981" opacity="0.8"/>
<rect x="499.32" y="211.3" width="2.8" height="1.4" fill="#089981"/>
<rect x="503.89" y="209.2" width="0.76" height="7.8" fill="#f23645" opacity="0.8"/>
<rect x="502.87" y="210.9" width="2.8" height="4.8" fill="#f23645"/>
<rect x="507.45" y="210.9" width="0.76" height="6.0" fill="#089981" opacity="0.8"/>
<rect x="506.43" y="212.3" width="2.8" height="3.8" fill="#089981"/>
<rect x="511.01" y="210.6" width="0.76" height="5.5" fill="#f23645" opacity="0.8"/>
<rect x="509.99" y="213.5" width="2.8" height="1.2" fill="#f23645"/>
<rect x="514.56" y="210.6" width="0.76" height="15.9" fill="#f23645" opacity="0.8"/>
<rect x="513.54" y="214.7" width="2.8" height="10.9" fill="#f23645"/>
<rect x="518.12" y="218.7" width="0.76" height="10.4" fill="#089981" opacity="0.8"/>
<rect x="517.10" y="222.1" width="2.8" height="4.0" fill="#089981"/>
<rect x="521.68" y="220.9" width="0.76" height="9.0" fill="#f23645" opacity="0.8"/>
<rect x="520.66" y="222.7" width="2.8" height="1.7" fill="#f23645"/>
<rect x="525.23" y="206.6" width="0.76" height="20.7" fill="#089981" opacity="0.8"/>
<rect x="524.21" y="222.1" width="2.8" height="2.2" fill="#089981"/>
<rect x="528.79" y="221.3" width="0.76" height="23.3" fill="#f23645" opacity="0.8"/>
<rect x="527.77" y="222.1" width="2.8" height="2.9" fill="#f23645"/>
<rect x="532.34" y="207.8" width="0.76" height="18.7" fill="#089981" opacity="0.8"/>
<rect x="531.32" y="216.4" width="2.8" height="8.6" fill="#089981"/>
<rect x="535.90" y="207.5" width="0.76" height="44.0" fill="#f23645" opacity="0.8"/>
<rect x="534.88" y="216.4" width="2.8" height="21.8" fill="#f23645"/>
<rect x="539.46" y="226.5" width="0.76" height="31.1" fill="#089981" opacity="0.8"/>
<rect x="538.44" y="228.2" width="2.8" height="12.1" fill="#089981"/>
<rect x="543.01" y="224.4" width="0.76" height="19.3" fill="#f23645" opacity="0.8"/>
<rect x="541.99" y="228.2" width="2.8" height="12.1" fill="#f23645"/>
<rect x="546.57" y="232.5" width="0.76" height="21.6" fill="#089981" opacity="0.8"/>
<rect x="545.55" y="234.2" width="2.8" height="4.3" fill="#089981"/>
<rect x="550.12" y="224.7" width="0.76" height="12.1" fill="#089981" opacity="0.8"/>
<rect x="549.10" y="229.0" width="2.8" height="5.7" fill="#089981"/>
<rect x="553.68" y="214.7" width="0.76" height="22.1" fill="#f23645" opacity="0.8"/>
<rect x="552.66" y="229.0" width="2.8" height="6.0" fill="#f23645"/>
<rect x="557.24" y="229.0" width="0.76" height="16.4" fill="#f23645" opacity="0.8"/>
<rect x="556.22" y="235.1" width="2.8" height="4.3" fill="#f23645"/>
<rect x="560.79" y="236.8" width="0.76" height="24.2" fill="#f23645" opacity="0.8"/>
<rect x="559.77" y="238.9" width="2.8" height="7.9" fill="#f23645"/>
<rect x="564.35" y="228.2" width="0.76" height="19.9" fill="#089981" opacity="0.8"/>
<rect x="563.33" y="230.8" width="2.8" height="16.1" fill="#089981"/>
<rect x="567.91" y="229.0" width="0.76" height="9.5" fill="#f23645" opacity="0.8"/>
<rect x="566.89" y="230.3" width="2.8" height="1.7" fill="#f23645"/>
<rect x="571.46" y="210.9" width="0.76" height="21.6" fill="#089981" opacity="0.8"/>
<rect x="570.44" y="213.0" width="2.8" height="19.0" fill="#089981"/>
<rect x="575.02" y="203.8" width="0.76" height="10.7" fill="#089981" opacity="0.8"/>
<rect x="574.00" y="206.3" width="2.8" height="6.6" fill="#089981"/>
<rect x="578.57" y="195.0" width="0.76" height="17.5" fill="#f23645" opacity="0.8"/>
<rect x="577.55" y="206.3" width="2.8" height="5.3" fill="#f23645"/>
<rect x="582.13" y="199.9" width="0.76" height="13.6" fill="#f23645" opacity="0.8"/>
<rect x="581.11" y="203.8" width="2.8" height="2.5" fill="#f23645"/>
<rect x="585.69" y="186.9" width="0.76" height="18.9" fill="#089981" opacity="0.8"/>
<rect x="584.67" y="202.8" width="2.8" height="1.9" fill="#089981"/>
<rect x="589.24" y="201.8" width="0.76" height="13.2" fill="#f23645" opacity="0.8"/>
<rect x="588.22" y="203.2" width="2.8" height="10.3" fill="#f23645"/>
<rect x="592.80" y="207.7" width="0.76" height="6.8" fill="#089981" opacity="0.8"/>
<rect x="591.78" y="209.6" width="2.8" height="3.9" fill="#089981"/>
<rect x="596.36" y="207.7" width="0.76" height="3.9" fill="#089981" opacity="0.8"/>
<rect x="595.34" y="208.7" width="2.8" height="1.9" fill="#089981"/>
<rect x="599.91" y="195.0" width="0.76" height="15.6" fill="#089981" opacity="0.8"/>
<rect x="598.89" y="196.0" width="2.8" height="14.2" fill="#089981"/>
<rect x="603.47" y="188.2" width="0.76" height="9.1" fill="#089981" opacity="0.8"/>
<rect x="602.45" y="190.2" width="2.8" height="6.4" fill="#089981"/>
<rect x="607.02" y="185.3" width="0.76" height="6.8" fill="#089981" opacity="0.8"/>
<rect x="606.00" y="188.8" width="2.8" height="1.9" fill="#089981"/>
<rect x="610.58" y="182.4" width="0.76" height="12.6" fill="#f23645" opacity="0.8"/>
<rect x="609.56" y="188.8" width="2.8" height="3.3" fill="#f23645"/>
<rect x="614.14" y="189.2" width="0.76" height="5.8" fill="#089981" opacity="0.8"/>
<rect x="613.12" y="190.2" width="2.8" height="1.9" fill="#089981"/>
<rect x="617.69" y="185.3" width="0.76" height="6.8" fill="#089981" opacity="0.8"/>
<rect x="616.67" y="186.9" width="2.8" height="4.7" fill="#089981"/>
<rect x="621.25" y="181.4" width="0.76" height="6.8" fill="#089981" opacity="0.8"/>
<rect x="620.23" y="185.7" width="2.8" height="1.9" fill="#089981"/>
<rect x="624.81" y="172.3" width="0.76" height="14.6" fill="#089981" opacity="0.8"/>
<rect x="623.79" y="176.6" width="2.8" height="9.7" fill="#089981"/>
<rect x="628.36" y="174.6" width="0.76" height="7.2" fill="#f23645" opacity="0.8"/>
<rect x="627.34" y="176.6" width="2.8" height="4.9" fill="#f23645"/>
<rect x="631.92" y="180.4" width="0.76" height="13.6" fill="#f23645" opacity="0.8"/>
<rect x="630.90" y="181.0" width="2.8" height="2.3" fill="#f23645"/>
<rect x="635.47" y="175.2" width="0.76" height="10.1" fill="#089981" opacity="0.8"/>
<rect x="634.45" y="176.0" width="2.8" height="8.4" fill="#089981"/>
<rect x="639.03" y="172.7" width="0.76" height="22.4" fill="#f23645" opacity="0.8"/>
<rect x="638.01" y="176.0" width="2.8" height="16.1" fill="#f23645"/>
<rect x="642.59" y="183.0" width="0.76" height="10.1" fill="#089981" opacity="0.8"/>
<rect x="641.57" y="184.3" width="2.8" height="7.8" fill="#089981"/>
<rect x="646.14" y="176.6" width="0.76" height="10.3" fill="#089981" opacity="0.8"/>
<rect x="645.12" y="177.9" width="2.8" height="7.4" fill="#089981"/>
<rect x="649.70" y="142.5" width="0.76" height="43.8" fill="#089981" opacity="0.8"/>
<rect x="648.68" y="143.5" width="2.8" height="35.0" fill="#089981"/>
<rect x="653.25" y="133.8" width="0.76" height="11.1" fill="#089981" opacity="0.8"/>
<rect x="652.23" y="137.6" width="2.8" height="6.8" fill="#089981"/>
<rect x="656.81" y="132.9" width="0.76" height="21.4" fill="#f23645" opacity="0.8"/>
<rect x="655.79" y="137.8" width="2.8" height="16.0" fill="#f23645"/>
<rect x="660.37" y="150.4" width="0.76" height="12.1" fill="#f23645" opacity="0.8"/>
<rect x="659.35" y="153.4" width="2.8" height="8.8" fill="#f23645"/>
<rect x="663.92" y="158.2" width="0.76" height="12.6" fill="#f23645" opacity="0.8"/>
<rect x="662.90" y="161.7" width="2.8" height="4.7" fill="#f23645"/>
<rect x="667.48" y="148.5" width="0.76" height="18.5" fill="#089981" opacity="0.8"/>
<rect x="666.46" y="151.4" width="2.8" height="15.0" fill="#089981"/>
<rect x="671.04" y="144.6" width="0.76" height="7.8" fill="#089981" opacity="0.8"/>
<rect x="670.02" y="149.9" width="2.8" height="1.9" fill="#089981"/>
<rect x="674.59" y="146.6" width="0.76" height="8.8" fill="#089981" opacity="0.8"/>
<rect x="673.57" y="147.9" width="2.8" height="2.5" fill="#089981"/>
<rect x="678.15" y="143.6" width="0.76" height="18.5" fill="#f23645" opacity="0.8"/>
<rect x="677.13" y="148.5" width="2.8" height="9.7" fill="#f23645"/>
<rect x="681.70" y="157.3" width="0.76" height="13.6" fill="#f23645" opacity="0.8"/>
<rect x="680.68" y="157.6" width="2.8" height="12.3" fill="#f23645"/>
<rect x="685.26" y="161.1" width="0.76" height="10.7" fill="#089981" opacity="0.8"/>
<rect x="684.24" y="163.5" width="2.8" height="7.0" fill="#089981"/>
<rect x="688.82" y="148.5" width="0.76" height="16.5" fill="#089981" opacity="0.8"/>
<rect x="687.80" y="149.5" width="2.8" height="14.6" fill="#089981"/>
<rect x="692.37" y="146.6" width="0.76" height="8.8" fill="#f23645" opacity="0.8"/>
<rect x="691.35" y="149.5" width="2.8" height="2.9" fill="#f23645"/>
<rect x="695.93" y="135.5" width="0.76" height="17.5" fill="#089981" opacity="0.8"/>
<rect x="694.91" y="136.4" width="2.8" height="16.0" fill="#089981"/>
<rect x="699.49" y="134.9" width="0.76" height="8.8" fill="#f23645" opacity="0.8"/>
<rect x="698.47" y="135.9" width="2.8" height="1.4" fill="#f23645"/>
<rect x="703.04" y="131.0" width="0.76" height="11.7" fill="#f23645" opacity="0.8"/>
<rect x="702.02" y="135.5" width="2.8" height="5.3" fill="#f23645"/>
<rect x="706.60" y="130.4" width="0.76" height="11.3" fill="#089981" opacity="0.8"/>
<rect x="705.58" y="132.9" width="2.8" height="5.8" fill="#089981"/>
<rect x="710.15" y="131.0" width="0.76" height="9.7" fill="#f23645" opacity="0.8"/>
<rect x="709.13" y="132.9" width="2.8" height="3.9" fill="#f23645"/>
<rect x="713.71" y="129.0" width="0.76" height="13.6" fill="#089981" opacity="0.8"/>
<rect x="712.69" y="132.0" width="2.8" height="4.9" fill="#089981"/>
<rect x="717.27" y="128.1" width="0.76" height="8.8" fill="#089981" opacity="0.8"/>
<rect x="716.25" y="130.6" width="2.8" height="2.3" fill="#089981"/>
<rect x="720.82" y="119.9" width="0.76" height="13.0" fill="#089981" opacity="0.8"/>
<rect x="719.80" y="121.3" width="2.8" height="10.7" fill="#089981"/>
<rect x="724.38" y="117.4" width="0.76" height="11.7" fill="#089981" opacity="0.8"/>
<rect x="723.36" y="123.2" width="2.8" height="1.0" fill="#089981"/>
<rect x="727.93" y="115.0" width="0.76" height="12.1" fill="#f23645" opacity="0.8"/>
<rect x="726.91" y="122.2" width="2.8" height="1.4" fill="#f23645"/>
<rect x="731.49" y="121.3" width="0.76" height="9.7" fill="#f23645" opacity="0.8"/>
<rect x="730.47" y="122.2" width="2.8" height="2.9" fill="#f23645"/>
<rect x="735.05" y="115.4" width="0.76" height="10.3" fill="#089981" opacity="0.8"/>
<rect x="734.03" y="119.3" width="2.8" height="5.3" fill="#089981"/>
<rect x="738.60" y="111.5" width="0.76" height="8.8" fill="#089981" opacity="0.8"/>
<rect x="737.58" y="116.8" width="2.8" height="2.9" fill="#089981"/>
<rect x="742.16" y="114.5" width="0.76" height="13.6" fill="#f23645" opacity="0.8"/>
<rect x="741.14" y="116.8" width="2.8" height="5.4" fill="#f23645"/>
<rect x="745.72" y="120.3" width="0.76" height="9.7" fill="#f23645" opacity="0.8"/>
<rect x="744.70" y="122.2" width="2.8" height="1.6" fill="#f23645"/>
<rect x="749.27" y="113.5" width="0.76" height="15.6" fill="#089981" opacity="0.8"/>
<rect x="748.25" y="116.0" width="2.8" height="7.2" fill="#089981"/>
<rect x="752.83" y="110.6" width="0.76" height="6.8" fill="#089981" opacity="0.8"/>
<rect x="751.81" y="113.5" width="2.8" height="2.9" fill="#089981"/>
<rect x="756.38" y="103.1" width="0.76" height="11.9" fill="#089981" opacity="0.8"/>
<rect x="755.36" y="106.0" width="2.8" height="7.8" fill="#089981"/>
<rect x="759.94" y="101.9" width="0.76" height="11.9" fill="#f23645" opacity="0.8"/>
<rect x="758.92" y="106.0" width="2.8" height="6.7" fill="#f23645"/>
<rect x="763.50" y="90.1" width="0.76" height="23.8" fill="#089981" opacity="0.8"/>
<rect x="762.48" y="91.3" width="2.8" height="21.4" fill="#089981"/>
<rect x="767.05" y="86.5" width="0.76" height="7.1" fill="#089981" opacity="0.8"/>
<rect x="766.03" y="87.7" width="2.8" height="4.8" fill="#089981"/>
<rect x="770.61" y="67.5" width="0.76" height="21.4" fill="#089981" opacity="0.8"/>
<rect x="769.59" y="69.4" width="2.8" height="18.8" fill="#089981"/>
<rect x="774.17" y="43.8" width="0.76" height="29.7" fill="#089981" opacity="0.8"/>
<rect x="773.15" y="45.7" width="2.8" height="24.7" fill="#089981"/>
<rect x="777.72" y="42.6" width="0.76" height="8.3" fill="#f23645" opacity="0.8"/>
<rect x="776.70" y="45.7" width="2.8" height="4.0" fill="#f23645"/>
<rect x="781.28" y="42.6" width="0.76" height="21.4" fill="#f23645" opacity="0.8"/>
<rect x="780.26" y="49.7" width="2.8" height="9.5" fill="#f23645"/>
<rect x="784.83" y="48.0" width="0.76" height="14.7" fill="#089981" opacity="0.8"/>
<rect x="783.81" y="53.3" width="2.8" height="5.9" fill="#089981"/>
<rect x="788.39" y="40.2" width="0.76" height="15.4" fill="#089981" opacity="0.8"/>
<rect x="787.37" y="41.9" width="2.8" height="11.9" fill="#089981"/>
<rect x="791.95" y="36.6" width="0.76" height="5.9" fill="#089981" opacity="0.8"/>
<rect x="790.93" y="40.2" width="2.8" height="1.9" fill="#089981"/>
<rect x="795.50" y="35.4" width="0.76" height="11.9" fill="#089981" opacity="0.8"/>
<rect x="794.48" y="40.9" width="2.8" height="1.2" fill="#089981"/>
<rect x="799.06" y="28.3" width="0.76" height="14.3" fill="#089981" opacity="0.8"/>
<rect x="798.04" y="29.5" width="2.8" height="12.4" fill="#089981"/>
<rect x="802.62" y="29.0" width="0.76" height="4.8" fill="#f23645" opacity="0.8"/>
<rect x="801.60" y="29.5" width="2.8" height="3.6" fill="#f23645"/>
<polygon fill="#2962ff" points="0,415.3 0.0,420.8 12.5,420.5 25.0,420.5 37.5,419.5 47.5,418.8 52.5,416.2 57.5,412.0 65.0,408.2 71.2,407.0 77.5,407.5 85.0,410.0 91.2,413.0 95.0,416.2 98.8,421.2 103.8,427.5 108.8,431.5 113.8,429.5 118.8,425.0 123.8,419.5 127.5,417.0 135.0,417.0 141.2,418.2 145.0,417.0 150.0,411.2 156.2,405.0 162.5,401.2 167.5,400.0 172.5,400.0 177.5,398.0 185.0,395.8 191.2,394.5 196.2,395.5 200.0,398.8 205.0,402.5 212.5,404.2 218.8,408.8 225.0,413.0 230.0,415.0 237.5,415.0 245.0,413.0 252.5,411.2 258.8,410.5 265.0,413.0 271.2,414.5 276.2,416.2 285.0,415.8 291.2,414.5 297.5,413.0 305.0,411.5 310.0,412.0 316.2,415.0 321.2,422.5 327.5,428.8 333.8,431.8 341.2,432.5 347.5,435.0 353.8,437.5 361.2,435.5 367.5,433.0 375.0,429.5 381.2,431.2 387.5,432.5 395.0,430.8 401.2,427.5 407.5,423.2 415.0,420.0 422.5,418.0 427.5,418.2 432.5,420.8 437.5,421.2 442.5,422.0 450.0,421.2 455.0,421.2 460.0,418.0 465.0,415.5 472.5,413.8 480.0,410.5 487.5,409.5 495.0,407.0 502.5,406.2 510.0,406.5 517.5,408.2 525.0,410.0 532.5,410.8 540.0,413.8 547.5,415.0 555.0,416.2 561.2,417.5 567.5,416.8 575.0,413.8 585.0,410.0 595.0,409.2 605.0,406.2 615.0,404.5 625.0,403.0 635.0,402.8 642.5,404.2 646.2,403.8 652.5,399.2 657.5,398.8 663.8,400.0 675.0,399.2 680.0,400.5 685.0,403.0 692.5,403.0 700.0,401.5 710.0,401.0 725.0,400.0 737.5,400.5 747.5,401.8 760.0,401.2 767.5,398.2 775.0,392.5 782.5,390.0 790.0,388.0 797.5,386.8 803.0,386.2 803,415.3"/>
<rect x="0" y="414.6" width="803" height="1.4" fill="#2962ff"/>
</svg>
<div id="txt">
<div class="t" style="left:2.5px;top:1px;color:#1a1d26;font-size:9.0px;letter-spacing:0.37px;">British Pound / Japanese Yen, 1D, FXCM</div>
<div class="t" style="left:188.5px;top:1px;color:#1a1d26;font-size:9.0px;">O</div>
<div class="t" style="left:194.5px;top:1px;color:#c8404f;font-size:9.0px;">183.622</div>
<div class="t" style="left:235.5px;top:1px;color:#1a1d26;font-size:9.0px;">H</div>
<div class="t" style="left:241.5px;top:1px;color:#c8404f;font-size:9.0px;">183.694</div>
<div class="t" style="left:281px;top:1px;color:#1a1d26;font-size:9.0px;">L</div>
<div class="t" style="left:286px;top:1px;color:#c8404f;font-size:9.0px;">183.067</div>
<div class="t" style="left:324.5px;top:1px;color:#1a1d26;font-size:9.0px;">C</div>
<div class="t" style="left:330.5px;top:1px;color:#c8404f;font-size:9.0px;">183.271</div>
<div class="t" style="left:370.5px;top:1px;color:#c8404f;font-size:9.0px;">−0.351 (−0.19%)</div>
<div class="t" style="left:2.5px;top:14.7px;color:#1a1d26;font-size:9.0px;">EMA</div>
<div class="t" style="left:27.5px;top:14.7px;color:#3f6fc4;font-size:9.0px;">181.950</div>
<div class="t" style="left:2.5px;top:27.799999999999997px;color:#1a1d26;font-size:9.0px;">MA</div>
<div class="t" style="left:23px;top:27.799999999999997px;color:#c8404f;font-size:9.0px;">178.051</div>
<div class="t" style="left:2.5px;top:387.8px;color:#1a1d26;font-size:9.0px;letter-spacing:-0.3px;">MACD</div>
<div class="t" style="left:34px;top:387.8px;color:#3f6fc4;font-size:9.0px;">3.009</div>
<div class="t" style="left:866px;top:-1.0px;color:#1a1d26;font-size:9.0px;">JPY</div>
<div class="t" style="left:865.0px;top:21.0px;color:#1a1d26;font-size:8.9px;">184.000</div>
<div class="t" style="left:865.0px;top:57.444px;color:#1a1d26;font-size:8.9px;">180.000</div>
<div class="t" style="left:865.0px;top:93.888px;color:#1a1d26;font-size:8.9px;">176.000</div>
<div class="t" style="left:865.0px;top:203.22000000000003px;color:#1a1d26;font-size:8.9px;">164.000</div>
<div class="t" style="left:865.0px;top:239.66400000000002px;color:#1a1d26;font-size:8.9px;">160.000</div>
<div class="t" style="left:865.0px;top:275.408px;color:#1a1d26;font-size:8.9px;">156.000</div>
<div class="t" style="left:865.0px;top:312.552px;color:#1a1d26;font-size:8.9px;">152.000</div>
<div class="t" style="left:865.0px;top:348.99600000000004px;color:#1a1d26;font-size:8.9px;">148.000</div>
<div class="t" style="left:864.3px;top:409.8px;color:#1a1d26;font-size:8.9px;">0.000</div>
<div class="lb" style="left:857.5px;top:27.2px;width:42.5px;height:12.8px;line-height:14.4px;background:#f23645;color:#fff;padding-left:7.4px;box-sizing:border-box">183.271</div>
<div class="lb" style="left:857.5px;top:40px;width:42.5px;height:13.6px;line-height:15.2px;background:#2962ff;color:#fff;padding-left:7.4px;box-sizing:border-box">181.950</div>
<div class="lb" style="left:857.5px;top:74.4px;width:42.5px;height:13.6px;line-height:15.2px;background:#f23645;color:#fff;padding-left:7.4px;box-sizing:border-box">178.051</div>
<div class="lb" style="left:857.5px;top:127.8px;width:42.5px;height:13.2px;line-height:14.799999999999999px;background:#14b8d1;color:#1a1d26;padding-left:7.4px;box-sizing:border-box">172.197</div>
<div class="lb" style="left:857.5px;top:165.8px;width:42.5px;height:13.2px;line-height:14.799999999999999px;background:#14b8d1;color:#1a1d26;padding-left:7.4px;box-sizing:border-box">168.023</div>
<div class="lb" style="left:857.5px;top:183.6px;width:42.5px;height:13.2px;line-height:14.799999999999999px;background:#14b8d1;color:#1a1d26;padding-left:7.4px;box-sizing:border-box">165.981</div>
<div class="lb" style="left:857.5px;top:278.6px;width:42.5px;height:13.0px;line-height:14.6px;background:#14b8d1;color:#1a1d26;padding-left:7.4px;box-sizing:border-box">155.625</div>
<div class="lb" style="left:857.5px;top:381px;width:32.5px;height:13px;line-height:14.6px;background:#2962ff;color:#fff;padding-left:7px;box-sizing:border-box">3.009</div>
<div class="t c" style="left:11px;top:449px;width:60px;text-align:center;color:#1a1d26;font-size:9px;letter-spacing:0.2px;">Sep</div>
<div class="t c" style="left:89.5px;top:449px;width:60px;text-align:center;color:#1a1d26;font-size:9px;letter-spacing:0.2px;">Oct</div>
<div class="t c" style="left:165px;top:449px;width:60px;text-align:center;color:#1a1d26;font-size:9px;letter-spacing:0.2px;">Nov</div>
<div class="t c" style="left:242.5px;top:449px;width:60px;text-align:center;color:#1a1d26;font-size:9px;letter-spacing:0.2px;">Dec</div>
<div class="t c" style="left:321px;top:449px;width:60px;text-align:center;color:#1a1d26;font-size:9px;letter-spacing:0.2px;font-weight:bold;">2023</div>
<div class="t c" style="left:399px;top:449px;width:60px;text-align:center;color:#1a1d26;font-size:9px;letter-spacing:0.2px;">Feb</div>
<div class="t c" style="left:470px;top:449px;width:60px;text-align:center;color:#1a1d26;font-size:9px;letter-spacing:0.2px;">Mar</div>
<div class="t c" style="left:552px;top:449px;width:60px;text-align:center;color:#1a1d26;font-size:9px;letter-spacing:0.2px;">Apr</div>
<div class="t c" style="left:623px;top:449px;width:60px;text-align:center;color:#1a1d26;font-size:9px;letter-spacing:0.2px;">May</div>
<div class="t c" style="left:705px;top:449px;width:60px;text-align:center;color:#1a1d26;font-size:9px;letter-spacing:0.2px;">Jun</div>
<div class="t c" style="left:784px;top:449px;width:60px;text-align:center;color:#1a1d26;font-size:9px;letter-spacing:0.2px;">Jul</div>
</div>
</body></html>
